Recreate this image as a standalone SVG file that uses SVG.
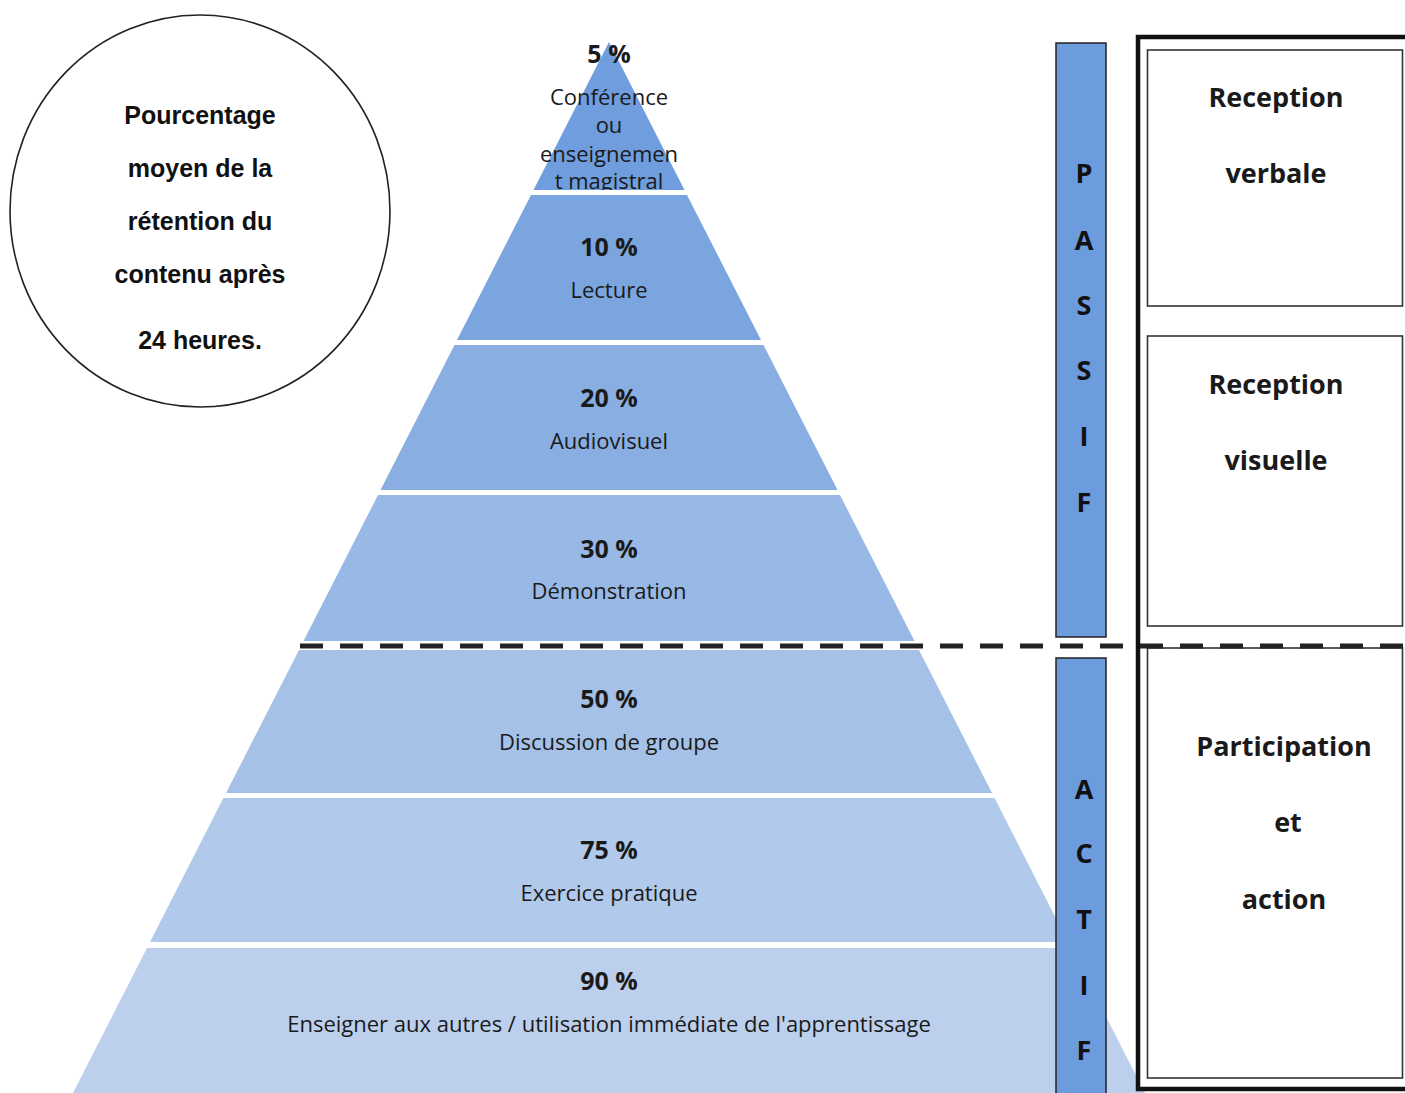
<svg xmlns="http://www.w3.org/2000/svg" width="1405" height="1093" viewBox="0 0 1405 1093">
<defs>
<style>
.pct{font-family:"Open Sans","Liberation Sans",sans-serif;font-weight:bold;font-size:25px;fill:#1a1a1a;text-anchor:middle}
.lbl{font-family:"Open Sans","Liberation Sans",sans-serif;font-size:22px;fill:#1a1a1a;text-anchor:middle}
.bar{fill:#6c9cdd;stroke:#222;stroke-width:1.5}
.let{font-family:"Open Sans","Liberation Sans",sans-serif;font-weight:bold;font-size:27px;fill:#111;text-anchor:middle}
.box{fill:#fff;stroke:#333;stroke-width:1.6}
.btx{font-family:"Open Sans","Liberation Sans",sans-serif;font-weight:bold;font-size:27px;fill:#1a1a1a;text-anchor:middle}
.circ{font-family:"Liberation Sans",Arial,sans-serif;font-weight:bold;font-size:25px;fill:#111;text-anchor:middle}
</style>
<clipPath id="topclip"><rect x="0" y="0" width="1405" height="190"/></clipPath>
</defs>
<rect width="1405" height="1093" fill="#fff"/>

<g id="circle">
<ellipse cx="200" cy="211" rx="190" ry="196" fill="#fff" stroke="#222" stroke-width="1.6"/>
<text class="circ" x="200" y="124">Pourcentage</text>
<text class="circ" x="200" y="177">moyen de la</text>
<text class="circ" x="200" y="230">rétention du</text>
<text class="circ" x="200" y="283">contenu après</text>
<text class="circ" x="200" y="349">24 heures.</text>
</g>

<g id="level-5">
<polygon points="609,42 684.5,190 533.5,190" fill="#6f9ddd"/>
<text class="pct" x="609" y="63">5 %</text>
<g clip-path="url(#topclip)">
<text class="lbl" x="609" y="105">Conférence</text>
<text class="lbl" x="609" y="133">ou</text>
<text class="lbl" x="609" y="162">enseignemen</text>
<text class="lbl" x="609" y="189">t magistral</text>
</g>
</g>
<g id="level-10">
<polygon points="531,195 687,195 761,340 457,340" fill="#7aa5df"/>
<text class="pct" x="609" y="256">10 %</text>
<text class="lbl" x="609" y="298">Lecture</text>
</g>
<g id="level-20">
<polygon points="454.5,345 763.5,345 837.5,490 380.5,490" fill="#89afe2"/>
<text class="pct" x="609" y="407">20 %</text>
<text class="lbl" x="609" y="449">Audiovisuel</text>
</g>
<g id="level-30">
<polygon points="378,495 840,495 914.5,641 303.5,641" fill="#98b9e5"/>
<text class="pct" x="609" y="558">30 %</text>
<text class="lbl" x="609" y="599">Démonstration</text>
</g>
<g id="level-50">
<polygon points="299,650 919,650 992,793 226,793" fill="#a5c1e7"/>
<text class="pct" x="609" y="708">50 %</text>
<text class="lbl" x="609" y="750">Discussion de groupe</text>
</g>
<g id="level-75">
<polygon points="223.4,798 994.6,798 1068,942 150,942" fill="#b1c9ea"/>
<text class="pct" x="609" y="859">75 %</text>
<text class="lbl" x="609" y="901">Exercice pratique</text>
</g>
<g id="level-90">
<polygon points="147,948 1071,948 1145,1093 73,1093" fill="#bccfec"/>
<text class="pct" x="609" y="990">90 %</text>
<text class="lbl" x="609" y="1032">Enseigner aux autres / utilisation immédiate de l'apprentissage</text>
</g>

<g id="frame">
<rect x="1138" y="37" width="300" height="1052" fill="#fff" stroke="#111" stroke-width="4.5"/>
</g>

<g id="box-verbale">
<rect class="box" x="1147.5" y="50" width="255" height="256"/>
<text class="btx" x="1276" y="107">Reception</text>
<text class="btx" x="1276" y="183">verbale</text>
</g>
<g id="box-visuelle">
<rect class="box" x="1147.5" y="336" width="255" height="290"/>
<text class="btx" x="1276" y="394">Reception</text>
<text class="btx" x="1276" y="470">visuelle</text>
</g>
<g id="box-participation">
<rect class="box" x="1147.5" y="648" width="255" height="430"/>
<text class="btx" x="1284" y="756">Participation</text>
<text class="btx" x="1288" y="832">et</text>
<text class="btx" x="1284" y="909">action</text>
</g>

<g id="bar-passif">
<rect class="bar" x="1056" y="43" width="50" height="594"/>
<text class="let" x="1084" y="183">P</text>
<text class="let" x="1084" y="250">A</text>
<text class="let" x="1084" y="315">S</text>
<text class="let" x="1084" y="380">S</text>
<text class="let" x="1084" y="446">I</text>
<text class="let" x="1084" y="512">F</text>
</g>
<g id="bar-actif">
<rect class="bar" x="1056" y="658" width="50" height="440"/>
<text class="let" x="1084" y="799">A</text>
<text class="let" x="1084" y="863">C</text>
<text class="let" x="1084" y="929">T</text>
<text class="let" x="1084" y="995">I</text>
<text class="let" x="1084" y="1060">F</text>
</g>

<g id="connectors">
<line x1="300" y1="646" x2="1405" y2="646" stroke="#222" stroke-width="5" stroke-dasharray="23 17"/>
</g>
</svg>
